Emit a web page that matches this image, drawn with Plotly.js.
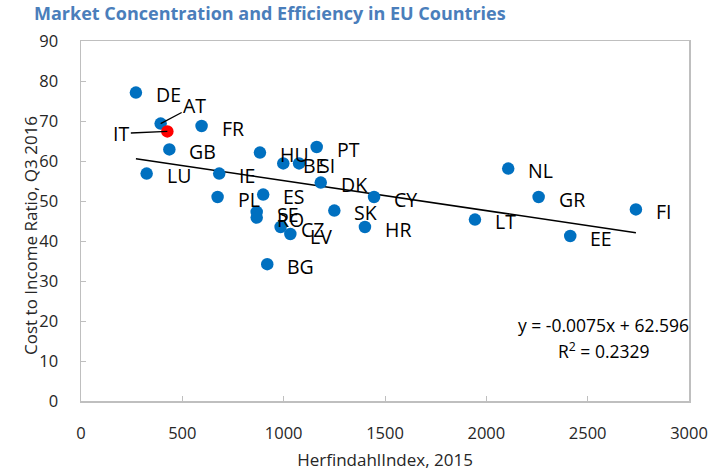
<!DOCTYPE html>
<html>
<head>
<meta charset="utf-8">
<script src="https://cdn.plot.ly/plotly-3.0.1.min.js"></script>
<style>html,body{margin:0;padding:0;background:#fff;}#chart{width:719px;height:474px;}</style>
</head>
<body>
<div id="chart"></div>
<script>
// ---- data ----
const countries = ["DE","AT","IT","FR","GB","LU","IE","PL","HU","BE","SI","PT","DK","ES","SE","RO","CZ","LV","BG","SK","CY","HR","LT","NL","GR","EE","FI"];
const herfindahl = [271,393,426,595,436,324,682,674,883,998,1076,1163,1183,899,867,867,985,1033,919,1250,1446,1401,1944,2108,2258,2414,2738];
const costIncome = [77.1,69.35,67.4,68.75,62.9,56.85,56.85,51.0,62.1,59.4,59.4,63.5,54.6,51.6,47.25,45.85,43.5,41.75,34.2,47.6,51.0,43.5,45.35,58.1,51.0,41.25,47.9];
const highlighted = ["IT"];
const trendSlope = -0.0075;
const trendIntercept = 62.596;
const rSquared = 0.2329;
const xTicks = [0,500,1000,1500,2000,2500,3000];
const yTicks = [0,10,20,30,40,50,60,70,80,90];

// ---- build ----
const blue = "#0070c0", red = "#ff0000";
const colors = countries.map(c => highlighted.includes(c) ? red : blue);
const xmin = Math.min(...herfindahl), xmax = Math.max(...herfindahl);
const trendX = [xmin, xmax];
const trendY = trendX.map(x => trendIntercept + trendSlope * x);

const traces = [
  {x: trendX, y: trendY, mode: "lines", line: {color: "#000", width: 1.5}, hoverinfo: "skip", showlegend: false},
  {x: herfindahl, y: costIncome, mode: "markers", marker: {color: colors, size: 12.5}, text: countries, showlegend: false}
];

// label placement (pixels); leader lines for crowded labels
const leader = {AT: {ax: 34, ay: -18}, IT: {ax: -46, ay: 2}};
const labelFont = {family: "Open Sans, sans-serif", size: 19.5, color: "#000"};
const annotations = countries.map((c, i) => {
  if (leader[c]) {
    return {x: herfindahl[i], y: costIncome[i], xref: "x", yref: "y", text: c, showarrow: true,
      arrowhead: 0, arrowwidth: 1.3, arrowcolor: "#000", standoff: 0, ax: leader[c].ax, ay: leader[c].ay,
      font: labelFont};
  }
  return {x: herfindahl[i], y: costIncome[i], xref: "x", yref: "y", text: c, showarrow: false,
    xanchor: "left", yanchor: "middle", xshift: 18, yshift: -2, font: labelFont};
});
const eqFont = {family: "Open Sans, sans-serif", size: 17.5, color: "#000"};
annotations.push({xref: "paper", yref: "paper", x: 0.86, y: 0.21, xanchor: "center", yanchor: "middle",
  text: "y = " + trendSlope + "x + " + trendIntercept, showarrow: false, font: eqFont});
annotations.push({xref: "paper", yref: "paper", x: 0.86, y: 0.14, xanchor: "center", yanchor: "middle",
  text: "R<sup>2</sup> = " + rSquared, showarrow: false, font: eqFont});
annotations.push({xref: "paper", yref: "paper", x: -0.083, y: 0.46, xanchor: "center", yanchor: "middle",
  textangle: -90, text: "Cost to Income Ratio, Q3 2016", showarrow: false,
  font: {family: "Open Sans, sans-serif", size: 17, color: "#262626"}});

const axisCommon = {showgrid: false, zeroline: false, showline: true, linecolor: "#bfbfbf", linewidth: 1.5,
  mirror: true, ticks: "inside", ticklen: 5, tickcolor: "#bfbfbf", tickwidth: 1,
  tickfont: {family: "Open Sans, sans-serif", size: 16.5, color: "#262626"}};

const layout = {
  width: 719, height: 474,
  margin: {l: 81, r: 30, t: 41, b: 73},
  paper_bgcolor: "#fff", plot_bgcolor: "#fff",
  title: {text: "<b>Market Concentration and Efficiency in EU Countries</b>", x: 34/719, xanchor: "left",
    y: 1 - 14/474, yanchor: "middle", font: {family: "Open Sans, sans-serif", size: 18, color: "#4a7ebb"}},
  xaxis: Object.assign({}, axisCommon, {range: [0, 3000], tickvals: xTicks, ticktext: xTicks.map(String),
    ticklabelstandoff: 17,
    title: {text: "HerfindahlIndex, 2015", standoff: 11, font: {family: "Open Sans, sans-serif", size: 17, color: "#262626"}}}),
  yaxis: Object.assign({}, axisCommon, {range: [0, 90], tickvals: yTicks, ticktext: yTicks.map(String),
    ticklabelstandoff: 18}),
  annotations: annotations,
  showlegend: false
};

Plotly.newPlot("chart", traces, layout, {displayModeBar: false, staticPlot: true});
</script>
</body>
</html>
